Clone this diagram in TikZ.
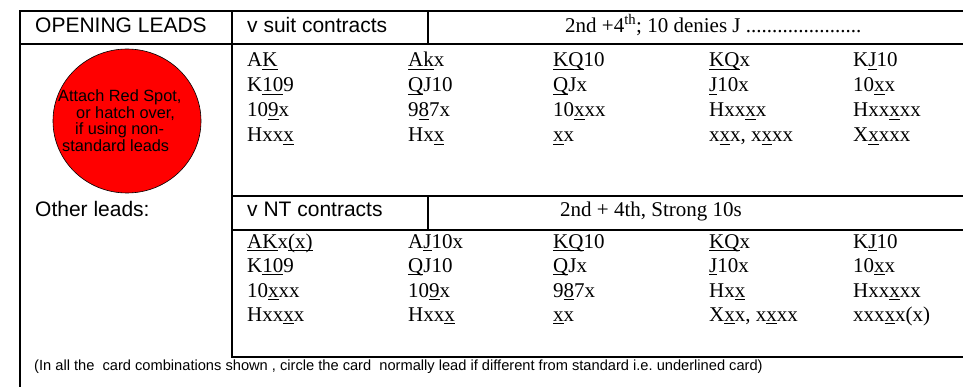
\documentclass[tikz,border=0pt]{standalone}
\usepackage{fontspec}
\setmainfont{Liberation Serif}
\setsansfont{Liberation Sans}
\newsavebox\ulbox
\newcommand\uln[1]{\sbox\ulbox{#1}\rlap{\rule[-2.7pt]{\wd\ulbox}{1.1pt}}\usebox\ulbox}
\begin{document}
\begin{tikzpicture}[x=1pt,y=-1pt,
  frame/.style={line width=2.5pt},
  card/.style={anchor=base west, inner sep=0pt, font=\fontsize{21}{25}\selectfont},
  head/.style={anchor=base west, inner sep=0pt, font=\sffamily\fontsize{21}{25}\selectfont},
  spot/.style={anchor=base west, inner sep=0pt, font=\sffamily\fontsize{16.3}{17}\selectfont},
  foot/.style={anchor=base west, inner sep=0pt, font=\sffamily\fontsize{14.65}{17}\selectfont}]
\useasboundingbox (0,0) rectangle (963,387);
\fill[white] (0,0) rectangle (963,387);
% frame lines
\draw[frame] (963,11) -- (20,11) -- (20,387);
\draw[frame] (20,44) -- (963,44);
\draw[frame] (232,11) -- (232,357) -- (963,357);
\draw[frame] (428,11) -- (428,44);
\draw[frame] (232,196) -- (963,196);
\draw[frame] (232,230) -- (963,230);
\draw[frame] (428,196) -- (428,230);
% red spot
\filldraw[fill=red, draw=black, line width=0.6pt] (127,121) ellipse [x radius=74pt, y radius=72pt];
\node[spot] (sp1) at (58,101.7) {Attach Red Spot,};
\node[spot] (sp2) at (76,118.3) {or hatch over,};
\node[spot] (sp3) at (75,135) {if using non-};
\node[spot] (sp4) at (62,151.7) {standard leads};
% headings
\node[head] (hOL) at (35,32.5) {OPENING LEADS};
\node[head] (hVS) at (247,32.5) {v suit contracts};
\node[card] (hVSt) at (565,32.5) {2nd +4\textsuperscript{th}; 10 denies J ......................};
\node[head] (hOther) at (35,216.5) {Other leads:};
\node[head] (hNT) at (247,216.5) {v NT contracts};
\node[card] (hNTt) at (560,216.5) {2nd + 4th, Strong 10s};
% suit table
\node[card] (s11) at (247,67) {A\uln{K}};
\node[card] (s12) at (408,67) {\uln{Ak}x};
\node[card] (s13) at (553,67) {\uln{KQ}10};
\node[card] (s14) at (709,67) {\uln{KQ}x};
\node[card] (s15) at (853,67) {K\uln{J}10};
\node[card] (s21) at (247,92) {K\uln{10}9};
\node[card] (s22) at (408,92) {\uln{Q}J10};
\node[card] (s23) at (553,92) {\uln{Q}Jx};
\node[card] (s24) at (709,92) {\uln{J}10x};
\node[card] (s25) at (853,92) {10\uln{x}x};
\node[card] (s31) at (247,117) {10\uln{9}x};
\node[card] (s32) at (408,117) {9\uln{8}7x};
\node[card] (s33) at (553,117) {10\uln{x}xx};
\node[card] (s34) at (709,117) {Hxx\uln{x}x};
\node[card] (s35) at (853,117) {Hxx\uln{x}xx};
\node[card] (s41) at (247,142) {Hxx\uln{x}};
\node[card] (s42) at (408,142) {Hx\uln{x}};
\node[card] (s43) at (553,142) {\uln{x}x};
\node[card] (s44) at (709,142) {x\uln{x}x, x\uln{x}xx};
\node[card] (s45) at (853,142) {X\uln{x}xxx};
% NT table
\node[card] (n11) at (247,248) {\uln{AK}x\uln{(x)}};
\node[card] (n12) at (408,248) {A\uln{J}10x};
\node[card] (n13) at (553,248) {\uln{KQ}10};
\node[card] (n14) at (709,248) {\uln{KQ}x};
\node[card] (n15) at (853,248) {K\uln{J}10};
\node[card] (n21) at (247,272.5) {K\uln{10}9};
\node[card] (n22) at (408,272.5) {\uln{Q}J10};
\node[card] (n23) at (553,272.5) {\uln{Q}Jx};
\node[card] (n24) at (709,272.5) {\uln{J}10x};
\node[card] (n25) at (853,272.5) {10\uln{x}x};
\node[card] (n31) at (247,297) {10\uln{x}xx};
\node[card] (n32) at (408,297) {10\uln{9}x};
\node[card] (n33) at (553,297) {9\uln{8}7x};
\node[card] (n34) at (709,297) {Hx\uln{x}};
\node[card] (n35) at (853,297) {Hxx\uln{x}xx};
\node[card] (n41) at (247,321.5) {Hxx\uln{x}x};
\node[card] (n42) at (408,321.5) {Hxx\uln{x}};
\node[card] (n43) at (553,321.5) {\uln{x}x};
\node[card] (n44) at (709,321.5) {X\uln{x}x, x\uln{x}xx};
\node[card] (n45) at (853,321.5) {xxx\uln{x}x(x)};
% footer
\node[foot] (foot) at (34,370) {(In all the\ \ card combinations shown , circle the card\ \ normally lead if different from standard i.e.\ underlined card)};
\end{tikzpicture}
\end{document}
